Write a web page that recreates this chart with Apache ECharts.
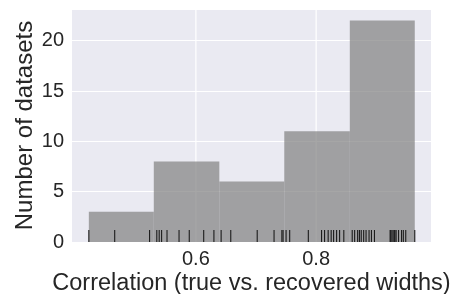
<!DOCTYPE html>
<html lang="en">
<head>
  <meta charset="UTF-8">
  <title>Correlation histogram</title>
  <script src="https://cdn.jsdelivr.net/npm/echarts@6/dist/echarts.min.js"></script>
  <style>
    html, body { margin: 0; padding: 0; background: #fff; }
  </style>
</head>
<body>
<div id="main" style="width:453px;height:294px"></div>
<script>
  // histogram bins (edges) and counts
  var binEdges = [0.422, 0.530, 0.639, 0.747, 0.856, 0.964];
  var binCounts = [3, 8, 6, 11, 22];
  // one rug tick per dataset
  var rugValues = [
    0.422, 0.465, 0.523,
    0.535, 0.539, 0.543, 0.552, 0.572, 0.589, 0.613, 0.630,
    0.642, 0.658, 0.702, 0.730, 0.743, 0.745,
    0.750, 0.756, 0.787, 0.809, 0.814, 0.820, 0.825, 0.829, 0.834, 0.839, 0.846,
    0.860, 0.864, 0.869, 0.872, 0.875, 0.879, 0.883, 0.888, 0.892, 0.897,
    0.923, 0.924, 0.926, 0.928, 0.930, 0.931, 0.933, 0.937, 0.942, 0.945, 0.949, 0.964
  ];
  var xTicks = [0.6, 0.8];
  var yTicks = [0, 5, 10, 15, 20];

  var font = 'Liberation Sans, Arial, sans-serif';
  var textColor = '#262626';

  var binData = [];
  for (var i = 0; i < binCounts.length; i++) {
    binData.push([binEdges[i], binEdges[i + 1], binCounts[i]]);
  }

  var chart = echarts.init(document.querySelector('#main'));
  chart.setOption({
    animation: false,
    grid: {
      left: 72, right: 22, top: 9, bottom: 52,
      outerBoundsMode: 'none',
      containLabel: false,
      show: true, backgroundColor: '#EAEAF2', borderWidth: 0
    },
    xAxis: {
      type: 'value',
      min: 0.394, max: 0.991,
      name: 'Correlation (true vs. recovered widths)',
      nameLocation: 'middle',
      nameGap: 30,
      nameMoveOverlap: false,
      nameTextStyle: {fontFamily: font, fontSize: 23.5, color: textColor},
      axisLine: {show: false},
      axisTick: {show: false},
      splitLine: {show: false},
      axisLabel: {
        customValues: xTicks,
        margin: 7,
        fontFamily: font, fontSize: 20, color: textColor,
        formatter: function (v) { return v.toFixed(1); }
      }
    },
    yAxis: {
      type: 'value',
      min: 0, max: 23.15,
      interval: 5,
      name: 'Number of datasets',
      nameLocation: 'middle',
      nameGap: 35,
      nameMoveOverlap: false,
      nameTextStyle: {fontFamily: font, fontSize: 24, color: textColor},
      axisLine: {show: false},
      axisTick: {show: false},
      splitLine: {show: true, lineStyle: {color: '#ffffff', width: 1.2}},
      axisLabel: {
        customValues: yTicks,
        margin: 8,
        fontFamily: font, fontSize: 20, color: textColor
      }
    },
    series: [
      {
        // vertical grid lines behind the bars
        type: 'custom',
        z: 1,
        silent: true,
        data: xTicks.map(function (v) { return [v, 0]; }),
        encode: {x: 0, y: 1},
        renderItem: function (params, api) {
          var p = api.coord([api.value(0), 0]);
          var cs = params.coordSys;
          return {
            type: 'line',
            shape: {x1: p[0], y1: cs.y, x2: p[0], y2: cs.y + cs.height},
            style: {stroke: '#ffffff', lineWidth: 1.2}
          };
        }
      },
      {
        type: 'custom',
        z: 2,
        data: binData,
        encode: {x: [0, 1], y: 2},
        renderItem: function (params, api) {
          var p0 = api.coord([api.value(0), api.value(2)]);
          var p1 = api.coord([api.value(1), 0]);
          return {
            type: 'rect',
            shape: {x: p0[0], y: p0[1], width: p1[0] - p0[0], height: p1[1] - p0[1]},
            style: {fill: 'rgba(128,128,128,0.7)'}
          };
        }
      },
      {
        type: 'custom',
        z: 3,
        data: rugValues.map(function (v) { return [v, 0]; }),
        encode: {x: 0, y: 1},
        renderItem: function (params, api) {
          var p = api.coord([api.value(0), 0]);
          return {
            type: 'line',
            shape: {x1: p[0], y1: p[1], x2: p[0], y2: p[1] - 12},
            style: {stroke: '#1c1c1c', lineWidth: 1.1}
          };
        }
      }
    ]
  });
</script>
</body>
</html>
